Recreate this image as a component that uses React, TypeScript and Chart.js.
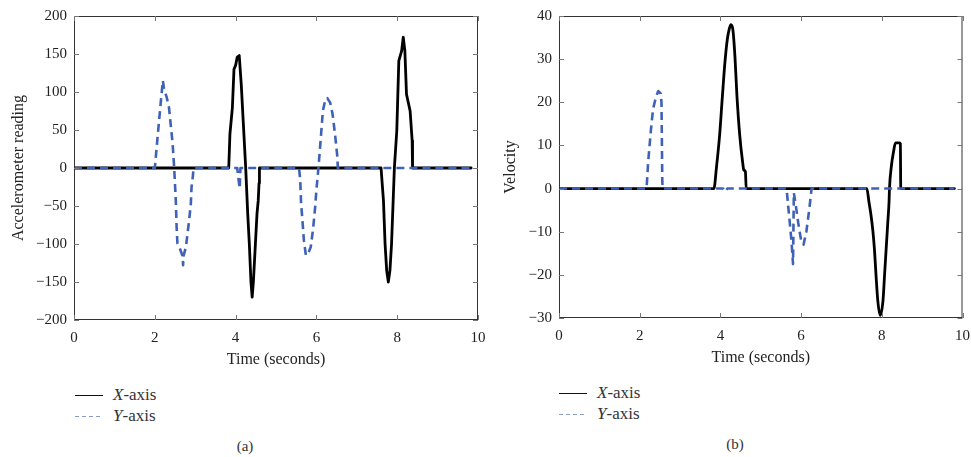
import React, { useEffect, useRef } from "react";
import { Chart, registerables } from "chart.js";
Chart.register(...registerables);

// ---- Data: panel (a) accelerometer reading ----
const accXTime = [0, 3.83, 3.86, 3.92, 3.96, 4.0, 4.04, 4.09, 4.14, 4.19, 4.25, 4.3, 4.34, 4.38, 4.41, 4.44, 4.49, 4.53, 4.56, 4.58, 4.59, 7.6, 7.66, 7.7, 7.74, 7.78, 7.82, 7.86, 7.9, 7.93, 7.99, 8.04, 8.11, 8.15, 8.19, 8.23, 8.32, 8.37, 8.38, 9.83];
const accXValue = [0, 0, 45, 79, 130, 135, 146, 148, 110, 60, 0, -60, -100, -150, -170, -150, -100, -60, -43, -20, 0, 0, -43, -100, -135, -150, -135, -100, -43, 0, 49, 141, 154, 172, 154, 97, 75, 36, 0, 0];
const accYTime = [0, 2.0, 2.09, 2.15, 2.2, 2.23, 2.29, 2.35, 2.39, 2.44, 2.48, 2.52, 2.54, 2.56, 2.62, 2.69, 2.7, 2.71, 2.77, 2.84, 2.89, 2.91, 2.94, 2.96, 4.04, 4.1, 4.12, 5.57, 5.6, 5.62, 5.66, 5.69, 5.74, 5.8, 5.86, 5.92, 5.97, 6.0, 6.05, 6.11, 6.16, 6.22, 6.27, 6.34, 6.4, 6.46, 6.52, 6.53, 9.83];
const accYValue = [0, 0, 53, 88, 115, 103, 94, 80, 59, 33, 0, -43, -78, -99, -106, -116, -128, -116, -104, -73, -49, -25, -12, 0, 0, -27, 0, 0, -16, -45, -73, -95, -115, -112, -104, -79, -51, -29, 0, 40, 75, 90, 92, 86, 71, 45, 14, 0, 0];

// ---- Data: panel (b) velocity ----
const velXTime = [0, 3.84, 3.9, 3.98, 4.05, 4.11, 4.17, 4.22, 4.26, 4.31, 4.36, 4.41, 4.48, 4.55, 4.58, 4.62, 4.64, 7.63, 7.68, 7.73, 7.78, 7.82, 7.86, 7.9, 7.96, 8.03, 8.07, 8.11, 8.15, 8.18, 8.19, 8.24, 8.29, 8.34, 8.44, 8.46, 8.47, 9.8];
const velXValue = [0, 0, 4.7, 12.3, 21.5, 29, 34.5, 37, 38, 36.8, 30.7, 21.5, 12.3, 6.2, 4.3, 3.9, 0, 0, -3, -6, -9.9, -14.4, -20.6, -25.9, -29.4, -25.9, -19.8, -13.7, -7.6, -3, 0, 5.4, 8.5, 10.6, 10.6, 10.4, 0, 0];
const velYTime = [0, 2.17, 2.21, 2.28, 2.33, 2.4, 2.46, 2.52, 2.54, 2.56, 2.57, 4.07, 4.13, 4.17, 5.64, 5.7, 5.76, 5.8, 5.82, 5.87, 5.93, 6.0, 6.06, 6.13, 6.2, 6.26, 9.8];
const velYValue = [0, 0, 6.2, 13.8, 18.4, 21.1, 22.6, 22.0, 20, 1.6, 0, 0, -0.7, 0, 0, -6, -12, -17.5, -1, -4, -8, -12, -13, -10, -5, 0, 0];

const xTicks = [0, 2, 4, 6, 8, 10];
const seriesNames = ["X-axis", "Y-axis"];

const BLUE = "#3f62b6";
const SERIF = "'Liberation Serif', 'Times New Roman', serif";

const boxPlugin = {
  id: "boxTicks",
  afterDatasetsDraw(chart: any) {
    const { ctx, chartArea: a, scales } = chart;
    const x = scales.x, y = scales.y;
    ctx.save();
    ctx.strokeStyle = "#333";
    ctx.lineWidth = 1;
    ctx.strokeRect(a.left + 0.5, a.top + 0.5, a.right - a.left - 1, a.bottom - a.top - 1);
    ctx.strokeStyle = "#777";
    const L = 5;
    ctx.beginPath();
    x.ticks.forEach((t: any) => {
      const px = Math.round(x.getPixelForValue(t.value)) + 0.5;
      ctx.moveTo(px, a.bottom);
      ctx.lineTo(px, a.bottom - L);
      ctx.moveTo(px, a.top);
      ctx.lineTo(px, a.top + L);
    });
    y.ticks.forEach((t: any) => {
      const py = Math.round(y.getPixelForValue(t.value)) + 0.5;
      ctx.moveTo(a.left, py);
      ctx.lineTo(a.left + L, py);
      ctx.moveTo(a.right, py);
      ctx.lineTo(a.right - L, py);
    });
    ctx.stroke();
    ctx.restore();
  },
};

function toPoints(t: number[], v: number[]) {
  return t.map((tt, i) => ({ x: tt, y: v[i] }));
}

type PanelProps = {
  xt: number[]; xv: number[]; yt: number[]; yv: number[];
  yMin: number; yMax: number; yStep: number; yTitle: string;
  axisWidth: number; axisHeight: number; padTop: number; padRight: number;
  yTitlePad: number; xTitlePad: number; smooth: boolean;
};

function Panel(p: PanelProps) {
  const ref = useRef<HTMLCanvasElement>(null);
  useEffect(() => {
    if (!ref.current) return;
    const chart = new Chart(ref.current, {
      type: "line",
      data: {
        datasets: [
          {
            label: seriesNames[1],
            data: toPoints(p.yt, p.yv),
            borderColor: BLUE,
            borderWidth: 2.6,
            borderDash: [8, 5],
            borderJoinStyle: "round",
            pointRadius: 0,
            tension: 0,
            order: 0,
          },
          {
            label: seriesNames[0],
            data: toPoints(p.xt, p.xv),
            borderColor: "#000",
            borderWidth: 2.8,
            borderJoinStyle: "round",
            borderCapStyle: "round",
            pointRadius: 0,
            tension: p.smooth ? 0.4 : 0,
            cubicInterpolationMode: p.smooth ? "monotone" : "default",
            order: 1,
          },
        ],
      },
      options: {
        animation: false,
        responsive: false,
        maintainAspectRatio: false,
        layout: { padding: { top: p.padTop, right: p.padRight, left: 0, bottom: 0 } },
        plugins: { legend: { display: false }, tooltip: { enabled: false } },
        scales: {
          x: {
            type: "linear",
            min: 0,
            max: 10,
            afterBuildTicks: (s: any) => { s.ticks = xTicks.map((v) => ({ value: v })); },
            afterFit: (s: any) => { s.height = p.axisHeight; },
            grid: { display: false },
            border: { display: false },
            ticks: { color: "#222", padding: 1, font: { family: SERIF, size: 15 }, maxRotation: 0 },
            title: { display: true, text: "Time (seconds)", color: "#222", font: { family: SERIF, size: 16 }, padding: { bottom: p.xTitlePad, top: 0 } },
          },
          y: {
            min: p.yMin,
            max: p.yMax,
            ticks: {
              stepSize: p.yStep,
              color: "#222",
              padding: 7,
              font: { family: SERIF, size: 15 },
              callback: (v: any) => String(v).replace("-", "\u2212"),
            },
            afterFit: (s: any) => { s.width = p.axisWidth; },
            grid: { display: false, drawTicks: false },
            border: { display: false },
            title: { display: true, text: p.yTitle, color: "#222", font: { family: SERIF, size: 16 }, padding: { top: p.yTitlePad, bottom: 0 } },
          },
        },
      },
      plugins: [boxPlugin],
    } as any);
    return () => chart.destroy();
  }, []);
  return <canvas ref={ref} width={p.axisWidth + 404 + p.padRight} height={370} style={{ display: "block" }} />;
}

function Legend({ left, top }: { left: number; top: number }) {
  const textStyle: React.CSSProperties = { position: "absolute", left: 38, fontFamily: SERIF, fontSize: 17, color: "#333", lineHeight: "18px", whiteSpace: "nowrap" };
  return (
    <div style={{ position: "absolute", left, top, width: 120, height: 40 }}>
      <svg width="32" height="40" style={{ position: "absolute", left: 0, top: 0 }}>
        <line x1="0" y1="9.5" x2="28" y2="9.5" stroke="#111" strokeWidth="1" />
        <line x1="0" y1="30.5" x2="28" y2="30.5" stroke="#8a9cc4" strokeWidth="1" strokeDasharray="4 3" />
      </svg>
      <div style={{ ...textStyle, top: 0 }}><i>X</i>-axis</div>
      <div style={{ ...textStyle, top: 21 }}><i>Y</i>-axis</div>
    </div>
  );
}

export default function App() {
  return (
    <div style={{ position: "absolute", left: 0, top: 0, width: 971, height: 457, background: "#fff", overflow: "hidden" }}>
      <div style={{ position: "absolute", left: 0, top: 0 }}>
        <Panel xt={accXTime} xv={accXValue} yt={accYTime} yv={accYValue} yMin={-200} yMax={200} yStep={50}
          yTitle="Accelerometer reading" axisWidth={74} axisHeight={50} padTop={15} padRight={12}
          yTitlePad={9} xTitlePad={1} smooth={false} />
      </div>
      <div style={{ position: "absolute", left: 490, top: 0 }}>
        <Panel xt={velXTime} xv={velXValue} yt={velYTime} yv={velYValue} yMin={-30} yMax={40} yStep={10}
          yTitle="Velocity" axisWidth={69} axisHeight={52} padTop={13} padRight={8}
          yTitlePad={11} xTitlePad={3} smooth={true} />
      </div>
      <Legend left={75} top={386} />
      <Legend left={559} top={384} />
      <div style={{ position: "absolute", left: 225, top: 438, width: 40, textAlign: "center", fontFamily: SERIF, fontSize: 15, color: "#333" }}>(a)</div>
      <div style={{ position: "absolute", left: 715, top: 436, width: 40, textAlign: "center", fontFamily: SERIF, fontSize: 15, color: "#333" }}>(b)</div>
    </div>
  );
}
